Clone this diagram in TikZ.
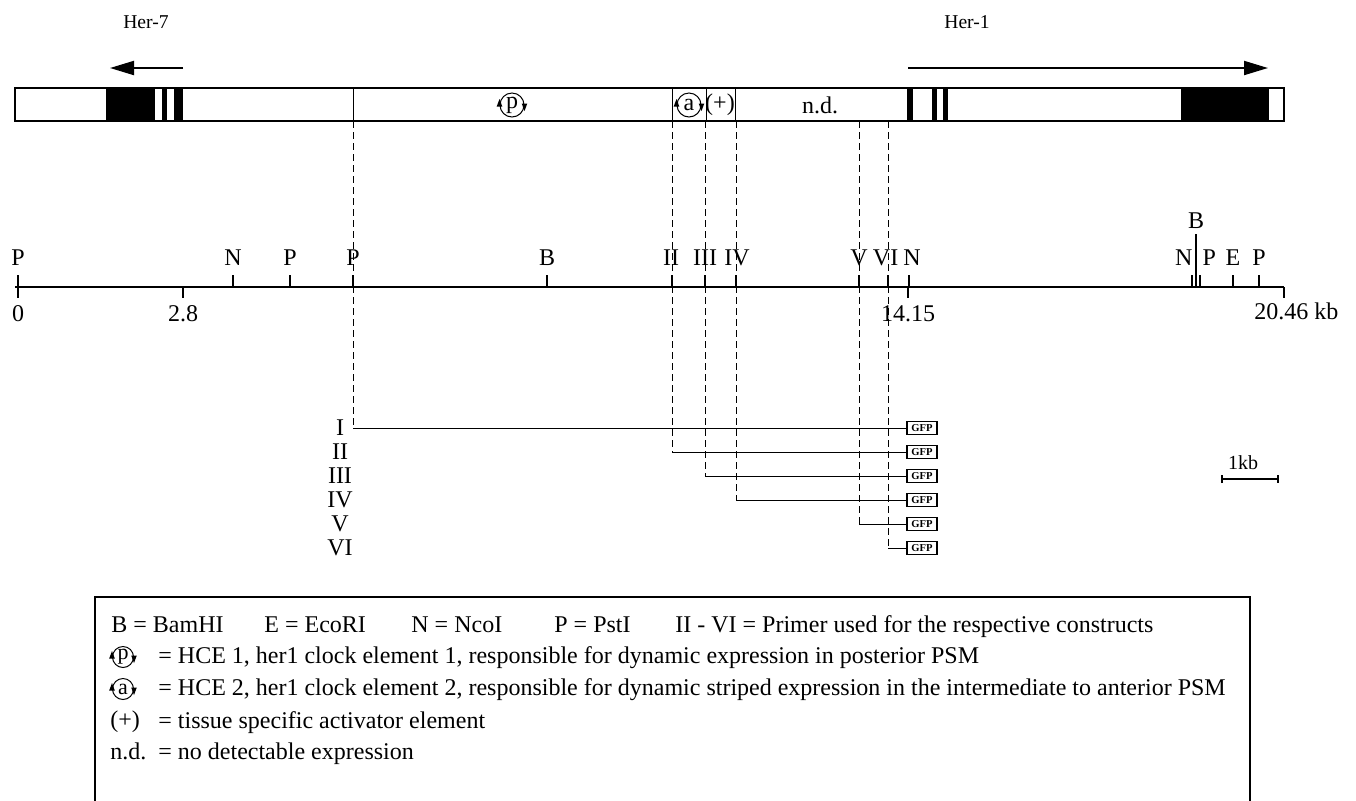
\documentclass[tikz,border=0pt]{standalone}
\usepackage{fontspec}
\setmainfont{Liberation Serif}
\usetikzlibrary{arrows.meta}
\begin{document}
\begin{tikzpicture}[x=0.5pt,y=-0.5pt,
  every node/.style={font=\fontsize{12}{14}\selectfont, inner sep=0pt},
  barline/.style={line width=0.7pt},
  dashline/.style={line width=0.5pt, dash pattern=on 3.5pt off 2pt},
  conline/.style={line width=0.5pt},
  tick/.style={line width=0.6pt},
  gene/.style={line width=1pt, -{Triangle[length=12pt,width=7pt]}},
  gfpbox/.style={draw, line width=0.6pt, minimum width=15pt, minimum height=6.5pt, font=\fontsize{5.3}{6}\selectfont\bfseries},
  clockc/.style={circle, draw, line width=0.5pt, inner sep=0pt, minimum size=12pt},
  legtext/.style={anchor=base west},
  pics/clock/.style={code={
    \node[clockc] (-c) {#1};
    \fill (-c.west) +(0,-6) -- +(-2.8,1.5) -- +(2.8,1.5) -- cycle;
    \fill (-c.east) +(0,6) -- +(-2.8,-1.5) -- +(2.8,-1.5) -- cycle;
  }}
]
\useasboundingbox (0,0) rectangle (1356,800);
\clip (0,0) rectangle (1356,800);

% gene labels and arrows
\node[font=\fontsize{9.8}{11}\selectfont] (her7) at (146,22) {Her-7};
\node[font=\fontsize{9.8}{11}\selectfont] (her1) at (967,22) {Her-1};
\coordinate (a7s) at (183,68); \coordinate (a7e) at (110,68);
\coordinate (a1s) at (908,68); \coordinate (a1e) at (1268,68);
\draw[gene] (a7s) -- (a7e);
\draw[gene] (a1s) -- (a1e);

% bar
\fill (106,88) rectangle (155,121);
\fill (162,88) rectangle (167,121);
\fill (174,88) rectangle (183,121);
\fill (907,88) rectangle (913,121);
\fill (932,88) rectangle (937,121);
\fill (943,88) rectangle (948,121);
\fill (1181,88) rectangle (1269,121);
\draw[barline] (15,88) rectangle (1284,121);
\foreach \x in {353,672,706,735} \draw[conline] (\x,88) -- (\x,121);

\pic (p1) at (512,105) {clock=p};
\pic (a1) at (689,105) {clock=a};
\node (plus) at (720,105) {(+)};
\node (nd) at (820,105) {n.d.};

% scale line
\coordinate (s0) at (15,287); \coordinate (s1) at (1284,287);
\draw[line width=0.7pt] (s0) -- (s1);
\foreach \x/\t/\dx in {18/P/0,233/N/0,290/P/0,353/P/0,547/B/0,672/II/-0.5,705/III/0,736/IV/0.5,859/V/0,888/VI/-1.2,909/N/1.5,1233/E/0,1259/P/0}
  \draw[tick] (\x,287) -- (\x,275) node[above=4.5pt, xshift=\dx pt] {\t};
\draw[tick] (1192,287) -- (1192,275) node[anchor=south east, xshift=0.5pt, yshift=4.5pt] {N};
\draw[tick] (1200,287) -- (1200,275) node[anchor=south west, xshift=1pt, yshift=4.5pt] {P};
\draw[tick] (1196,287) -- (1196,234) node[above=2.5pt] {B};
\foreach \x/\t in {18/0,183/2.8,908/14.15}
  \draw[tick] (\x,287) -- (\x,298) node[below=3.5pt] {\t};
\draw[tick] (1284,287) -- (1284,298);
\node[anchor=north west] (end) at (1254,302) {20.46 kb};

% constructs
\foreach \i/\t/\y in {1/I/428,2/II/452,3/III/476,4/IV/500,5/V/524,6/VI/548}{
  \node (lab\i) at (340,\y) {\t};
  \node[gfpbox] (g\i) at (922,\y) {GFP};
}
\foreach \i/\x/\y in {1/353/428,2/672/452,3/705/476,4/736/500,5/859/524,6/888/548}{
  \coordinate (top\i) at (\x,121);
  \coordinate (c\i) at (\x,\y);
  \draw[dashline] (top\i) -- (c\i);
  \draw[conline] (c\i) -- (g\i.west);
}

% 1kb scale bar
\coordinate (k0) at (1221,479); \coordinate (k1) at (1279,479);
\draw[line width=1pt, {Bar[width=4pt]}-{Bar[width=4pt]}] (k0) -- (k1);
\node[font=\fontsize{10}{11}\selectfont] (kb) at (1243,463) {1kb};

% legend
\draw[line width=1pt] (95,597) rectangle (1250,840);
\node[legtext] (l1) at (111,632) {B = BamHI};
\node[legtext] (l2) at (264,632) {E = EcoRI};
\node[legtext] (l3) at (411,632) {N = NcoI};
\node[legtext] (l4) at (554,632) {P = PstI};
\node[legtext] (l5) at (675,632) {II - VI = Primer used for the respective constructs};
\begin{scope}[clockc/.append style={minimum size=10.5pt, font=\fontsize{11}{12}\selectfont}]
\pic (lp) at (123,657) {clock=p};
\pic (la) at (123,689) {clock=a};
\end{scope}
\node[legtext] (t2) at (158,663) {= HCE 1, her1 clock element 1, responsible for dynamic expression in posterior PSM};
\node[legtext] (t3) at (158,695) {= HCE 2, her1 clock element 2, responsible for dynamic striped expression in the intermediate to anterior PSM};
\node[legtext] (s4) at (110,727) {(+)};
\node[legtext] (t4) at (158,728) {= tissue specific activator element};
\node[legtext] (s5) at (110,759) {n.d.};
\node[legtext] (t5) at (158,759) {= no detectable expression};
\end{tikzpicture}
\end{document}
